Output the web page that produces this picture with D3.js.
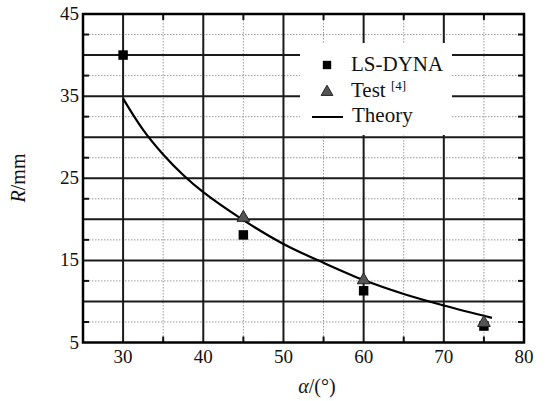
<!DOCTYPE html>
<html>
<head>
<meta charset="utf-8">
<script src="https://cdn.jsdelivr.net/npm/d3@7"></script>
<style>
body { margin: 0; background: #fff; }
svg { display: block; }
text { font-family: "Liberation Serif", "DejaVu Serif", "Times New Roman", serif; fill: #111; }
</style>
</head>
<body>
<svg width="547" height="401"></svg>
<script>
"use strict";

var xMajor = [30, 40, 50, 60, 70];
var xMinor = [35, 45, 55, 65, 75];
var xLabels = [30, 40, 50, 60, 70, 80];
var yMajor = [10, 15, 20, 25, 30, 35, 40];
var yMinor = [7.5, 12.5, 17.5, 22.5, 27.5, 32.5, 37.5, 42.5];
var yLabels = [5, 15, 25, 35, 45];

var dynaAlpha = [30, 45, 60, 75];
var dynaR = [40, 18.1, 11.3, 7.0];
var testAlpha = [45, 60, 75];
var testR = [20.2, 12.6, 7.4];
var theoryAlpha = [30, 32.5, 35, 37.5, 40, 45, 50, 55, 60, 65, 70, 76];
var theoryR = [34.7, 30.9, 27.9, 25.4, 23.3, 19.9, 17.0, 14.7, 12.6, 10.9, 9.5, 8.0];

var pLeft = 83, pRight = 524, pTop = 14, pBottom = 342.5;
var x = d3.scaleLinear().domain([25, 80]).range([pLeft, pRight]);
var y = d3.scaleLinear().domain([5, 45]).range([pBottom, pTop]);
var svg = d3.select('svg');

// dotted minor grid
var grid = svg.append('g');
grid.selectAll('line.vmin').data(xMinor).enter().append('line')
	.attr('x1', function(d) {return x(d)}).attr('x2', function(d) {return x(d)})
	.attr('y1', pTop).attr('y2', pBottom)
	.attr('stroke', '#999').attr('stroke-width', 1).attr('stroke-dasharray', '1.5,1.5');
grid.selectAll('line.hmin').data(yMinor).enter().append('line')
	.attr('y1', function(d) {return y(d)}).attr('y2', function(d) {return y(d)})
	.attr('x1', pLeft).attr('x2', pRight)
	.attr('stroke', '#999').attr('stroke-width', 1).attr('stroke-dasharray', '1.5,1.5');

// solid major grid
grid.selectAll('line.vmaj').data(xMajor).enter().append('line')
	.attr('x1', function(d) {return x(d)}).attr('x2', function(d) {return x(d)})
	.attr('y1', pTop).attr('y2', pBottom)
	.attr('stroke', '#1a1a1a').attr('stroke-width', 2);
grid.selectAll('line.hmaj').data(yMajor).enter().append('line')
	.attr('y1', function(d) {return y(d)}).attr('y2', function(d) {return y(d)})
	.attr('x1', pLeft).attr('x2', pRight)
	.attr('stroke', '#1a1a1a').attr('stroke-width', 2);

// minor ticks pointing inward on all sides
var ticks = svg.append('g').attr('stroke', '#111').attr('stroke-width', 2);
xMinor.forEach(function(d) {
	ticks.append('line').attr('x1', x(d)).attr('x2', x(d)).attr('y1', pTop).attr('y2', pTop + 6);
	ticks.append('line').attr('x1', x(d)).attr('x2', x(d)).attr('y1', pBottom).attr('y2', pBottom - 6);
});
yMinor.forEach(function(d) {
	ticks.append('line').attr('y1', y(d)).attr('y2', y(d)).attr('x1', pLeft).attr('x2', pLeft + 6);
	ticks.append('line').attr('y1', y(d)).attr('y2', y(d)).attr('x1', pRight).attr('x2', pRight - 6);
});

// legend background
var lg = svg.append('g');
lg.append('rect').attr('x', 300).attr('y', 43).attr('width', 152).attr('height', 92).attr('fill', '#fff');

// frame
svg.append('rect').attr('x', pLeft).attr('y', pTop).attr('width', pRight - pLeft).attr('height', pBottom - pTop)
	.attr('fill', 'none').attr('stroke', '#000').attr('stroke-width', 2.5);

// tick labels
svg.append('g').selectAll('text').data(xLabels).enter().append('text')
	.attr('x', function(d) {return x(d)}).attr('y', pBottom + 20)
	.attr('text-anchor', 'middle').attr('font-size', 19)
	.text(function(d) {return d});
svg.append('g').selectAll('text').data(yLabels).enter().append('text')
	.attr('x', pLeft - 4).attr('y', function(d) {return y(d) + 6})
	.attr('text-anchor', 'end').attr('font-size', 19)
	.text(function(d) {return d});

// axis titles
var xt = svg.append('text').attr('x', 317).attr('y', 393).attr('text-anchor', 'middle').attr('font-size', 20);
xt.append('tspan').attr('font-style', 'italic').text('α');
xt.append('tspan').text('/(°)');
var yt = svg.append('text').attr('transform', 'translate(25,178) rotate(-90)')
	.attr('text-anchor', 'middle').attr('font-size', 20);
yt.append('tspan').attr('font-style', 'italic').text('R');
yt.append('tspan').text('/mm');

// theory curve
var line = d3.line()
	.x(function(d) {return x(d[0])})
	.y(function(d) {return y(d[1])})
	.curve(d3.curveCatmullRom.alpha(0.5));
svg.append('path').datum(d3.zip(theoryAlpha, theoryR))
	.attr('d', line).attr('fill', 'none').attr('stroke', '#000').attr('stroke-width', 2.2);

// markers
var sq = d3.symbol().type(d3.symbolSquare).size(90);
var tri = d3.symbol().type(d3.symbolTriangle).size(70);
svg.append('g').selectAll('path').data(d3.zip(dynaAlpha, dynaR)).enter().append('path')
	.attr('d', sq)
	.attr('transform', function(d) {return 'translate(' + x(d[0]) + ',' + y(d[1]) + ')'})
	.attr('fill', '#000');
svg.append('g').selectAll('path').data(d3.zip(testAlpha, testR)).enter().append('path')
	.attr('d', tri)
	.attr('transform', function(d) {return 'translate(' + x(d[0]) + ',' + y(d[1]) + ')'})
	.attr('fill', '#555').attr('stroke', '#222').attr('stroke-width', 1);

// legend entries
lg = svg.append('g');
lg.append('path').attr('d', d3.symbol().type(d3.symbolSquare).size(70)).attr('transform', 'translate(327,65)').attr('fill', '#000');
lg.append('text').attr('x', 351).attr('y', 71).attr('font-size', 21).text('LS-DYNA');
lg.append('path').attr('d', d3.symbol().type(d3.symbolTriangle).size(60)).attr('transform', 'translate(327,92)')
	.attr('fill', '#555').attr('stroke', '#222').attr('stroke-width', 1);
var tt = lg.append('text').attr('x', 351).attr('y', 97).attr('font-size', 21);
tt.append('tspan').text('Test ');
tt.append('tspan').attr('font-size', 13).attr('dy', -7).text('[4]');
lg.append('line').attr('x1', 312).attr('x2', 343).attr('y1', 117).attr('y2', 117).attr('stroke', '#000').attr('stroke-width', 2);
lg.append('text').attr('x', 352).attr('y', 122).attr('font-size', 21).text('Theory');
</script>
</body>
</html>
